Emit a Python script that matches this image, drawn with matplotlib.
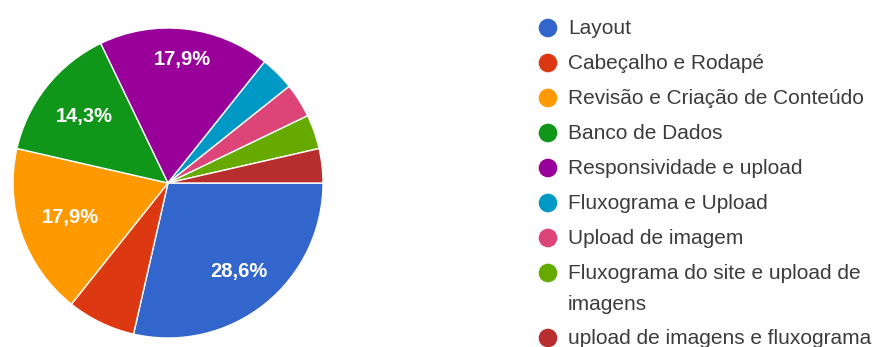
import matplotlib
matplotlib.use("Agg")
import matplotlib.pyplot as plt
import numpy as np

# Respostas por tarefa (contagem de respostas)
labels = [
    "Layout",
    "Cabeçalho e Rodapé",
    "Revisão e Criação de Conteúdo",
    "Banco de Dados",
    "Responsividade e upload",
    "Fluxograma e Upload",
    "Upload de imagem",
    "Fluxograma do site e upload de\nimagens",
    "upload de imagens e fluxograma",
]
counts = [8, 2, 5, 4, 5, 1, 1, 1, 1]
colors = [
    "#3366cc", "#dc3912", "#ff9900", "#109618", "#990099",
    "#0099c6", "#dd4477", "#66aa00", "#b82e2e",
]
# radial placement of the percentage text inside each slice
label_dist = [0.73, 0.7, 0.67, 0.69, 0.8, 0.7, 0.7, 0.7, 0.7]

W, H = 873, 347
plt.rcParams["font.family"] = ["Liberation Sans", "DejaVu Sans"]
fig = plt.figure(figsize=(W / 100, H / 100), dpi=100)

# pie: center (168, 183) px, radius 155 px
cx, cy, r = 168, 183, 155
ax = fig.add_axes([(cx - r) / W, (H - cy - r) / H, 2 * r / W, 2 * r / H])


def pct_label(p):
    # small slices get no label
    return f"{p:.1f}%".replace(".", ",") if p >= 10 else ""


wedges, texts, autotexts = ax.pie(
    counts,
    colors=colors,
    startangle=0,
    counterclock=False,
    radius=1,
    autopct=pct_label,
    wedgeprops={"edgecolor": "white", "linewidth": 1.0},
    textprops={"color": "white", "fontsize": 14.5, "fontweight": "bold"},
)
for w, t, d in zip(wedges, autotexts, label_dist):
    mid = np.deg2rad((w.theta1 + w.theta2) / 2)
    t.set_position((d * np.cos(mid), d * np.sin(mid)))
ax.set_xlim(-1, 1)
ax.set_ylim(-1, 1)
ax.set_aspect("equal")

# legend drawn in pixel coordinates
lax = fig.add_axes([0, 0, 1, 1])
lax.set_xlim(0, W)
lax.set_ylim(H, 0)
lax.axis("off")

y = 28
for lab, col in zip(labels, colors):
    lax.scatter([548], [y], s=180, color=col, edgecolors="none")
    lax.text(568, y - 9, lab, fontsize=15, color="#3c3c3c", va="top",
             ha="left", linespacing=1.78)
    y += 35 + 30 * lab.count("\n")

fig.savefig("out.png", dpi=100)
